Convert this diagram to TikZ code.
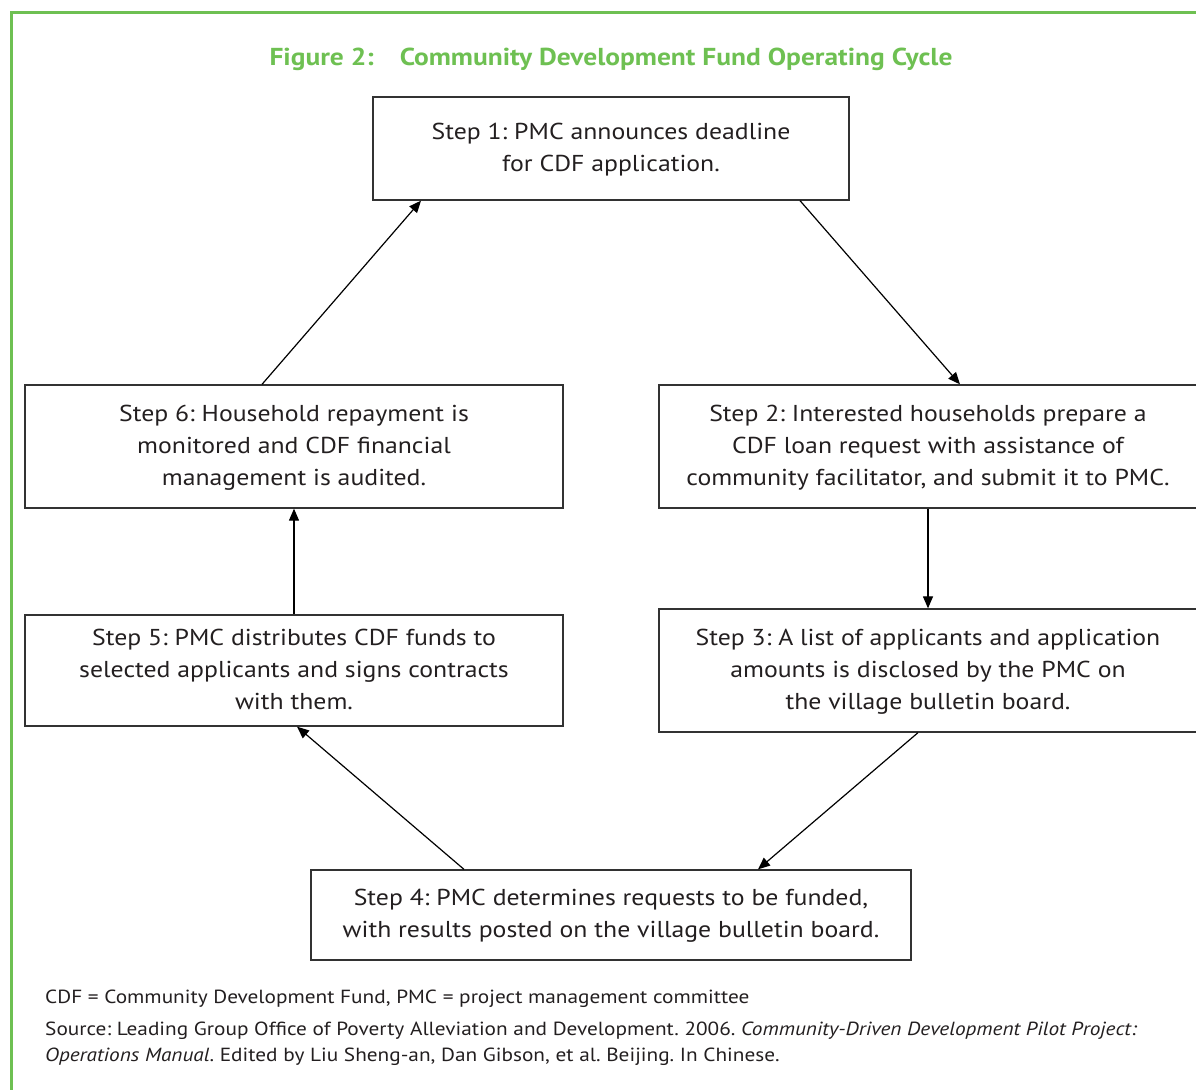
\documentclass[tikz,border=0pt]{standalone}
\usepackage{fontspec}
\setmainfont{PT Sans}[FakeStretch=1.12]
\usetikzlibrary{arrows.meta}
\frenchspacing
\definecolor{framegreen}{RGB}{110,192,82}
\definecolor{boxline}{RGB}{50,50,50}
\definecolor{txt}{RGB}{35,31,32}
\newcommand\tstrut{\rule{0pt}{20pt}}
\newcommand\bstrut{\rule[-7pt]{0pt}{0pt}}
\tikzset{
  stepbox/.style={draw=boxline, line width=1.3pt, align=center, text=txt,
    font=\fontsize{23}{32}\selectfont, inner sep=0pt},
  conn/.style={draw=black, line width=1.2pt, -{Triangle[length=12pt,width=10pt]}},
  note/.style={anchor=west, text=txt, font=\fontsize{19}{26}\selectfont, inner sep=0pt, align=left}
}
\begin{document}
\begin{tikzpicture}[x=1pt,y=-1pt]
\useasboundingbox (0,0) rectangle (1196,1089);
\begin{scope}
\clip (0,0) rectangle (1196,1089);
\draw[framegreen, line width=3pt] (11,13) rectangle (1300,1200);
\node[stepbox, minimum width=538pt, minimum height=123pt] (s2) at (928,446.5)
  {\tstrut Step 2: Interested households prepare a\\CDF loan request with assistance of\\community facilitator, and submit it to PMC.\bstrut};
\node[stepbox, minimum width=538pt, minimum height=123pt] (s3) at (928,670.5)
  {\tstrut Step 3: A list of applicants and application\\amounts is disclosed by the PMC on\\the village bulletin board.\bstrut};
\end{scope}
\node[text=framegreen, font=\fontsize{24.5}{28}\selectfont\bfseries] (title) at (611,59)
  {Figure 2:\hspace{26pt}Community Development Fund Operating Cycle};
\node[stepbox, minimum width=476pt, minimum height=103pt] (s1) at (611,148.5)
  {\tstrut Step 1: PMC announces deadline\\for CDF application.\bstrut};
\node[stepbox, minimum width=600pt, minimum height=90pt] (s4) at (611,915)
  {\tstrut Step 4: PMC determines requests to be funded,\\with results posted on the village bulletin board.\bstrut};
\node[stepbox, minimum width=538pt, minimum height=111pt] (s5) at (294,670.5)
  {\tstrut Step 5: PMC distributes CDF funds to\\selected applicants and signs contracts\\with them.\bstrut};
\node[stepbox, minimum width=538pt, minimum height=123pt] (s6) at (294,446.5)
  {\tstrut Step 6: Household repayment is\\monitored and CDF financial\\management is audited.\bstrut};
\draw[conn] ([xshift=189pt]s1.south) -- ([xshift=32pt]s2.north);
\draw[conn] (s2.south) -- (s3.north);
\draw[conn] ([xshift=-10pt]s3.south) -- ([xshift=147pt]s4.north);
\draw[conn] ([xshift=-147pt]s4.north) -- ([xshift=3pt]s5.south);
\draw[conn] (s5.north) -- (s6.south);
\draw[conn] ([xshift=-32pt]s6.north) -- ([xshift=-190pt]s1.south);
\node[note] (n1) at (45,999) {CDF = Community Development Fund, PMC = project management committee};
\node[note] (n2) at (45,1031) {Source: Leading Group Office of Poverty Alleviation and Development. 2006. \textit{Community-Driven Development Pilot Project:}};
\node[note] (n3) at (45,1057) {\textit{Operations Manual}. Edited by Liu Sheng-an, Dan Gibson, et al. Beijing. In Chinese.};
\end{tikzpicture}
\end{document}
